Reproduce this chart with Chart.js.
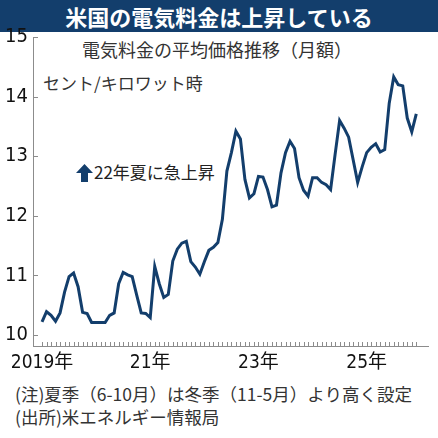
<!DOCTYPE html>
<html>
<head>
<meta charset="utf-8">
<script src="https://cdn.jsdelivr.net/npm/chart.js@4/dist/chart.umd.min.js"></script>
<style>
html,body{margin:0;padding:0;background:#fff;}
#wrap{position:relative;width:438px;height:438px;overflow:hidden;font-family:"Noto Sans CJK JP",sans-serif;color:#222;}
#c{position:absolute;left:0;top:0;z-index:2;}
.t{position:absolute;white-space:nowrap;line-height:1;}
#head{left:0;top:0;width:438px;height:32px;background:#133e6c;color:#fff;font-weight:bold;font-size:22px;line-height:32px;text-align:center;}
#sub{left:82px;top:40px;font-size:18px;color:#333;}
#unit{left:43px;top:74px;font-size:17px;color:#333;}
#mark{left:76px;top:163px;font-size:17px;color:#222;}
#mark svg{vertical-align:-3px;margin-right:1px;}
#n1{left:15px;top:385px;font-size:17.5px;color:#333;}
#n2{left:15px;top:408px;font-size:17.5px;color:#333;}
</style>
</head>
<body>
<div id="wrap">
<canvas id="c" width="438" height="438"></canvas>
<div class="t" id="head">米国の電気料金は上昇している</div>
<div class="t" id="sub">電気料金の平均価格推移（月額）</div>
<div class="t" id="unit">セント/キロワット時</div>
<div class="t" id="mark"><svg width="17" height="18" viewBox="0 0 17 18"><path d="M8.5 0 L17 9 L12 9 L12 18 L5 18 L5 9 L0 9 Z" fill="#133e6c"/></svg>22年夏に急上昇</div>
<div class="t" id="n1">(注)夏季（6-10月）は冬季（11-5月）より高く設定</div>
<div class="t" id="n2">(出所)米エネルギー情報局</div>
</div>
<script>
// 月次の平均価格（セント/kWh）、2019年1月から
const prices2019 = [10.22,10.39,10.33,10.23,10.37,10.72,10.98,11.04,10.81,10.38,10.36,10.21];
const prices2020 = [10.21,10.21,10.21,10.33,10.37,10.86,11.05,11.01,10.98,10.67,10.37,10.36];
const prices2021 = [10.29,11.15,10.86,10.63,10.68,11.24,11.44,11.54,11.57,11.23,11.14,11.02];
const prices2022 = [11.23,11.42,11.47,11.55,11.94,12.75,13.06,13.42,13.29,12.61,12.30,12.37];
const prices2023 = [12.66,12.65,12.44,12.15,12.18,12.72,13.06,13.25,13.13,12.64,12.43,12.33];
const prices2024 = [12.64,12.64,12.56,12.52,12.44,13.03,13.60,13.47,13.32,12.94,12.56,12.82];
const prices2025 = [13.06,13.15,13.21,13.07,13.11,13.89,14.33,14.20,14.18,13.64,13.41,13.71];

const prices = [].concat(prices2019,prices2020,prices2021,prices2022,prices2023,prices2024,prices2025);

// 年ラベル（1月の位置）
const yearTickIndex = [0,24,48,72];
const yearTickText = ["2019年","21年","23年","25年"];

const yTicks = [10,11,12,13,14,15];

const NAVY = "#133e6c";
const AXIS = "#8c8c8c";
const NUMFONT = "'Liberation Sans Narrow','DejaVu Sans Condensed','Noto Sans CJK JP',sans-serif";

// 内向きの目盛り
const innerTicks = {
    id:"innerTicks",
    afterDraw(chart){
        const {ctx, chartArea, scales} = chart;
        ctx.save();
        ctx.strokeStyle = AXIS;
        ctx.lineWidth = 1;
        ctx.beginPath();
        scales.x.ticks.forEach(t=>{
            const px = Math.round(scales.x.getPixelForValue(t.value))+0.5;
            ctx.moveTo(px, chartArea.bottom);
            ctx.lineTo(px, chartArea.bottom-4);
        });
        scales.y.ticks.forEach(t=>{
            const py = Math.round(scales.y.getPixelForValue(t.value))+0.5;
            ctx.moveTo(chartArea.left, py);
            ctx.lineTo(chartArea.left+5, py);
        });
        ctx.stroke();
        ctx.restore();
    }
};

new Chart(document.getElementById("c"),{
    type:"line",
    data:{
        datasets:[{
            data:prices.map((v,i)=>({x:i,y:v})),
            borderColor:NAVY,
            borderWidth:3,
            pointRadius:0,
            tension:0,
            fill:false
        }]
    },
    options:{
        responsive:false,
        animation:false,
        layout:{padding:{top:37,right:10,left:0,bottom:0}},
        plugins:{legend:{display:false},tooltip:{enabled:false}},
        scales:{
            x:{
                type:"linear",
                min:-2,
                max:85.6,
                border:{color:AXIS,width:1},
                grid:{drawOnChartArea:false,drawTicks:false},
                afterBuildTicks(scale){
                    scale.ticks = prices.map((v,i)=>({value:i}));
                },
                afterFit(scale){ scale.height = 92; },
                ticks:{
                    autoSkip:false,
                    maxRotation:0,
                    padding:6,
                    color:"#111",
                    font:{family:NUMFONT,size:19},
                    callback:(v)=>{
                        const k = yearTickIndex.indexOf(v);
                        return k>=0 ? yearTickText[k] : "";
                    }
                }
            },
            y:{
                min:9.815,
                max:15,
                border:{color:AXIS,width:1},
                grid:{drawOnChartArea:false,drawTicks:false},
                afterBuildTicks(scale){
                    scale.ticks = yTicks.map(v=>({value:v}));
                },
                afterFit(scale){ scale.width = 33; },
                ticks:{
                    padding:5,
                    color:"#111",
                    font:{family:NUMFONT,size:20}
                }
            }
        }
    },
    plugins:[innerTicks]
});
</script>
</body>
</html>
